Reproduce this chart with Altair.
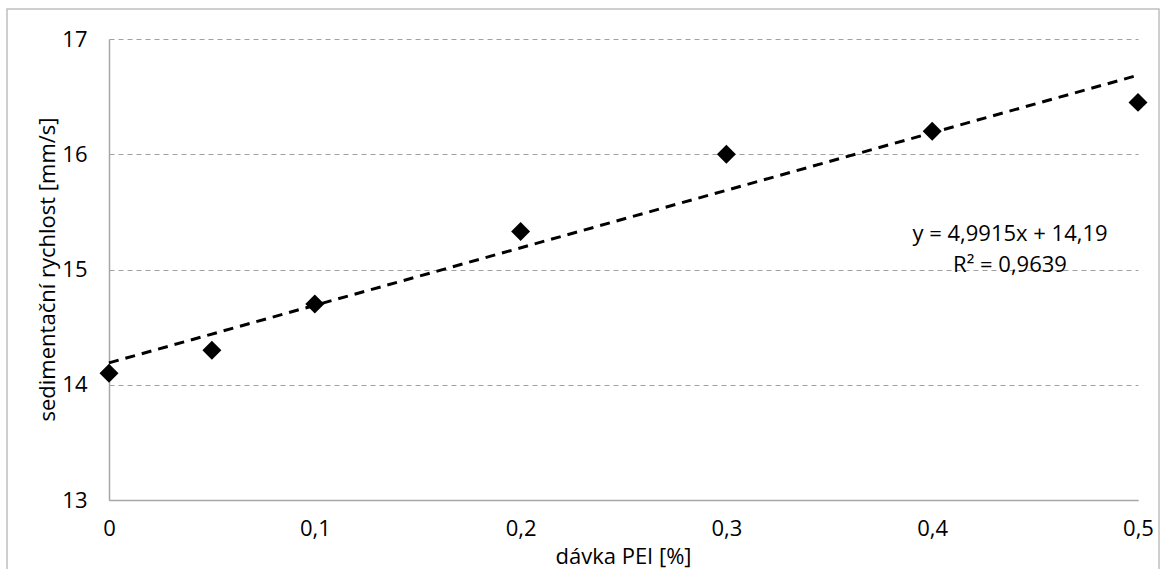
import altair as alt
import pandas as pd

# Measured sedimentation velocity vs. PEI dose
dose = [0, 0.05, 0.1, 0.2, 0.3, 0.4, 0.5]
velocity = [14.1, 14.3, 14.7, 15.33, 16.0, 16.2, 16.45]

# Linear trend line coefficients
slope = 4.9915
intercept = 14.19
r_squared = 0.9639
trend_x = [0, 0.5]

x_ticks = [0, 0.1, 0.2, 0.3, 0.4, 0.5]
y_ticks = [13, 14, 15, 16, 17]

FONT = "Open Sans"
FS = 22


def cz(v):
    return str(v).replace(".", ",")


points = pd.DataFrame({"x": dose, "y": velocity})
trend = pd.DataFrame({"x": trend_x})
eq_text = pd.DataFrame({
    "text": [f"y = {cz(slope)}x + {cz(intercept)}\nR² = {cz(r_squared)}"],
})

x_scale = alt.Scale(domain=[0, 0.5], nice=False, zero=False)
y_scale = alt.Scale(domain=[13, 17], nice=False, zero=False)

x_axis = alt.Axis(
    title="dávka PEI [%]",
    values=x_ticks,
    labelExpr="replace(format(datum.value, '.1~f'), '.', ',')",
    grid=False,
    ticks=False,
    domain=True,
    domainColor="#a6a6a6",
    domainWidth=1.5,
    labelPadding=18,
    labelFont=FONT,
    labelFontSize=FS,
    labelColor="#000000",
    labelFlush=False,
    titleFont=FONT,
    titleFontSize=FS,
    titleFontWeight="normal",
    titleColor="#000000",
    titleX=514,
    titleY=56,
    titleBaseline="middle",
)

y_axis = alt.Axis(
    title="sedimentační rychlost [mm/s]",
    values=y_ticks,
    format="d",
    grid=True,
    gridColor="#a0a0a0",
    gridDash=[5, 4],
    gridWidth=1,
    ticks=False,
    domain=True,
    domainColor="#a6a6a6",
    domainWidth=1.5,
    labelPadding=22,
    labelFont=FONT,
    labelFontSize=FS,
    labelColor="#000000",
    titleFont=FONT,
    titleFontSize=FS,
    titleFontWeight="normal",
    titleColor="#000000",
    titleX=-62,
    titleY=230,
    titleAngle=-90,
    titleAlign="center",
    titleBaseline="middle",
)

trend_line = alt.Chart(trend).transform_calculate(
    y=f"{slope} * datum.x + {intercept}"
).mark_line(color="#000000", strokeWidth=3, strokeDash=[10, 7]).encode(
    x=alt.X("x:Q", scale=x_scale, axis=x_axis),
    y=alt.Y("y:Q", scale=y_scale, axis=y_axis),
)

markers = alt.Chart(points).mark_point(
    shape="diamond", filled=True, color="#000000", size=360, opacity=1
).encode(
    x=alt.X("x:Q", scale=x_scale, axis=x_axis),
    y=alt.Y("y:Q", scale=y_scale, axis=y_axis),
)

equation = alt.Chart(eq_text).mark_text(
    font=FONT, fontSize=FS, color="#000000", align="center",
    baseline="middle", lineBreak="\n", lineHeight=31,
).encode(
    x=alt.value(901),
    y=alt.value(195),
    text="text:N",
)

frame = alt.Chart(pd.DataFrame({"k": [0]})).mark_rect(
    fill=None, stroke="#bfbfbf", strokeWidth=1.5
).encode(
    x=alt.value(-102), x2=alt.value(1050), y=alt.value(-30), y2=alt.value(545)
)

chart = alt.layer(frame, trend_line, markers, equation).properties(
    width=1029,
    height=461,
    autosize=alt.AutoSizeParams(type="none"),
    padding={"left": 109, "top": 39, "right": 24, "bottom": 69},
    background="#ffffff",
).configure_view(stroke=None)

chart.save("out.html", embed_options={"renderer": "svg", "actions": False})
